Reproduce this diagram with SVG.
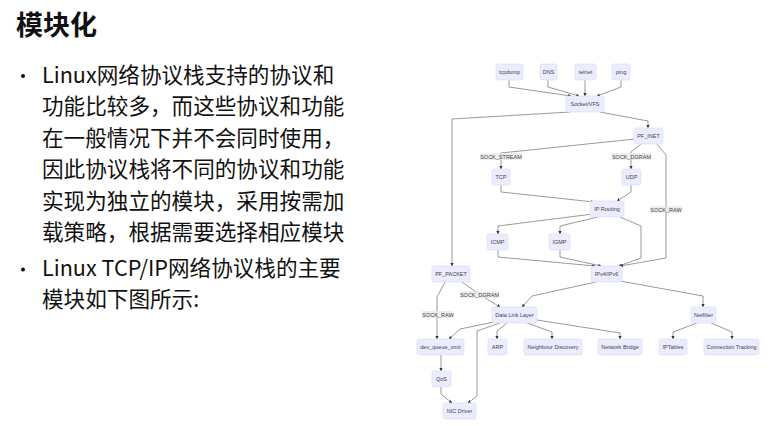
<svg xmlns="http://www.w3.org/2000/svg" width="772" height="426" viewBox="0 0 772 426">
<style>
.title{font-family:"Noto Sans CJK SC","Liberation Sans",sans-serif;font-size:27px;font-weight:bold;fill:#111}
.body{font-family:"Noto Sans CJK SC","Liberation Sans",sans-serif;font-size:21.6px;fill:#111}
.node rect{fill:#ececff;stroke:#d9d9f7;stroke-width:0.6}
.node text{font-family:"Liberation Sans",Arial,sans-serif;font-size:5.5px;fill:#444;text-anchor:middle;dominant-baseline:central}
.edge{fill:none;stroke:#555;stroke-width:0.6;stroke-linejoin:round;marker-end:url(#arr)}
.lbl rect{fill:#e8e8e8;opacity:0.75}
.lbl text{font-family:"Liberation Sans",Arial,sans-serif;font-size:5.5px;fill:#444;text-anchor:middle;dominant-baseline:central}
</style>
<defs>
<marker id="arr" viewBox="0 0 10 10" refX="9" refY="5" markerWidth="3.2" markerHeight="3.2" markerUnits="userSpaceOnUse" orient="auto">
<path d="M0,0 L10,5 L0,10 z" fill="#333"/>
</marker>
</defs>
<rect width="772" height="426" fill="#fff"/>
<g id="text">
<text class="title" x="16" y="35">模块化</text>
<circle cx="23" cy="76" r="2" fill="#111"/>
<text class="body" x="42" y="82.5">Linux网络协议栈支持的协议和</text>
<text class="body" x="42" y="114">功能比较多，而这些协议和功能</text>
<text class="body" x="42" y="145.5">在一般情况下并不会同时使用，</text>
<text class="body" x="42" y="177">因此协议栈将不同的协议和功能</text>
<text class="body" x="42" y="208.5">实现为独立的模块，采用按需加</text>
<text class="body" x="42" y="240">载策略，根据需要选择相应模块</text>
<circle cx="23" cy="269.5" r="2" fill="#111"/>
<text class="body" x="42" y="276">Linux TCP/IP网络协议栈的主要</text>
<text class="body" x="42" y="307">模块如下图所示:</text>
</g>
<g id="connectors">
<path class="edge" d="M509,80 L509,87 L571,96"/>
<path class="edge" d="M548,80 L548,87 L579,96"/>
<path class="edge" d="M585,80 L585,96"/>
<path class="edge" d="M621,80 L621,87 L597,96"/>
<path class="edge" d="M600,112 L648,121 L648,128"/>
<path class="edge" d="M570,112 L452,119 L452,266"/>
<path class="edge" d="M635,139 L501,153 L501,169"/>
<path class="edge" d="M641,144 L631,152 L631,169"/>
<path class="edge" d="M657,144 L666,155 L666,258 L620,266"/>
<path class="edge" d="M501,185 L501,192 L594,202"/>
<path class="edge" d="M631,185 L631,192 L617,201"/>
<path class="edge" d="M593,214 L498,226 L498,234"/>
<path class="edge" d="M598,217 L560,226 L560,234"/>
<path class="edge" d="M620,217 L641,226 L641,258 L619,266"/>
<path class="edge" d="M498,250 L498,257 L595,266"/>
<path class="edge" d="M560,250 L560,257 L601,266"/>
<path class="edge" d="M596,282 L532,296 L522,307"/>
<path class="edge" d="M620,281 L703,296 L703,307"/>
<path class="edge" d="M462,282 L479,294 L500,307"/>
<path class="edge" d="M445,282 L437,297 L437,339"/>
<path class="edge" d="M494,322 L460,329 L449,339"/>
<path class="edge" d="M500,323 L477,331 L477,396 L468,403"/>
<path class="edge" d="M507,323 L497,331 L497,339"/>
<path class="edge" d="M527,323 L552,332 L552,339"/>
<path class="edge" d="M537,320 L620,333 L620,339"/>
<path class="edge" d="M697,323 L673,332 L673,339"/>
<path class="edge" d="M711,323 L732,332 L732,339"/>
<path class="edge" d="M441,355 L441,371"/>
<path class="edge" d="M441,387 L441,394 L452,403"/>
<g class="lbl"><rect x="480" y="153" width="42" height="7"/><text x="501" y="156.5">SOCK_STREAM</text></g>
<g class="lbl"><rect x="612" y="153" width="39" height="7"/><text x="631.5" y="156.5">SOCK_DGRAM</text></g>
<g class="lbl"><rect x="650" y="206" width="32" height="7"/><text x="666" y="209.5">SOCK_RAW</text></g>
<g class="lbl"><rect x="460" y="291" width="39" height="7"/><text x="479.5" y="294.5">SOCK_DGRAM</text></g>
<g class="lbl"><rect x="422" y="311" width="32" height="7"/><text x="438" y="314.5">SOCK_RAW</text></g>
</g>
<g id="tcpdump" class="node"><rect x="496" y="64" width="27" height="16" rx="2"/><text x="509.5" y="72">tcpdump</text></g>
<g id="dns" class="node"><rect x="540" y="64" width="17" height="16" rx="2"/><text x="548.5" y="72">DNS</text></g>
<g id="telnet" class="node"><rect x="575" y="64" width="21" height="16" rx="2"/><text x="585.5" y="72">telnet</text></g>
<g id="ping" class="node"><rect x="612" y="64" width="18" height="16" rx="2"/><text x="621" y="72">ping</text></g>
<g id="socketvfs" class="node"><rect x="566" y="96" width="38" height="16" rx="2"/><text x="585" y="104">Socket/VFS</text></g>
<g id="pf_inet" class="node"><rect x="634" y="128" width="29" height="16" rx="2"/><text x="648.5" y="136">PF_INET</text></g>
<g id="tcp" class="node"><rect x="492" y="169" width="18" height="16" rx="2"/><text x="501" y="177">TCP</text></g>
<g id="udp" class="node"><rect x="622" y="169" width="19" height="16" rx="2"/><text x="631.5" y="177">UDP</text></g>
<g id="iprouting" class="node"><rect x="590" y="201" width="34" height="16" rx="2"/><text x="607" y="209">IP Routing</text></g>
<g id="icmp" class="node"><rect x="487" y="234" width="21" height="16" rx="2"/><text x="497.5" y="242">ICMP</text></g>
<g id="igmp" class="node"><rect x="549" y="234" width="21" height="16" rx="2"/><text x="559.5" y="242">IGMP</text></g>
<g id="ipv4ipv6" class="node"><rect x="591" y="266" width="31" height="16" rx="2"/><text x="606.5" y="274">IPv4/IPv6</text></g>
<g id="pf_packet" class="node"><rect x="432" y="266" width="38" height="16" rx="2"/><text x="451" y="274">PF_PACKET</text></g>
<g id="datalink" class="node"><rect x="492" y="307" width="45" height="16" rx="2"/><text x="514.5" y="315">Data Link Layer</text></g>
<g id="netfilter" class="node"><rect x="691" y="307" width="25" height="16" rx="2"/><text x="703.5" y="315">Netfilter</text></g>
<g id="devqueue" class="node"><rect x="417" y="339" width="47" height="16" rx="2"/><text x="440.5" y="347">dev_queue_xmit</text></g>
<g id="arp" class="node"><rect x="488" y="339" width="19" height="16" rx="2"/><text x="497.5" y="347">ARP</text></g>
<g id="neighbour" class="node"><rect x="524" y="339" width="58" height="16" rx="2"/><text x="553" y="347">Neighbour Discovery</text></g>
<g id="bridge" class="node"><rect x="598" y="339" width="44" height="16" rx="2"/><text x="620" y="347">Network Bridge</text></g>
<g id="iptables" class="node"><rect x="659" y="339" width="28" height="16" rx="2"/><text x="673" y="347">IPTables</text></g>
<g id="conntrack" class="node"><rect x="704" y="339" width="55" height="16" rx="2"/><text x="731.5" y="347">Connection Tracking</text></g>
<g id="qos" class="node"><rect x="432" y="371" width="19" height="16" rx="2"/><text x="441.5" y="379">QoS</text></g>
<g id="nicdriver" class="node"><rect x="443" y="403" width="33" height="16" rx="2"/><text x="459.5" y="411">NIC Driver</text></g>
</svg>
